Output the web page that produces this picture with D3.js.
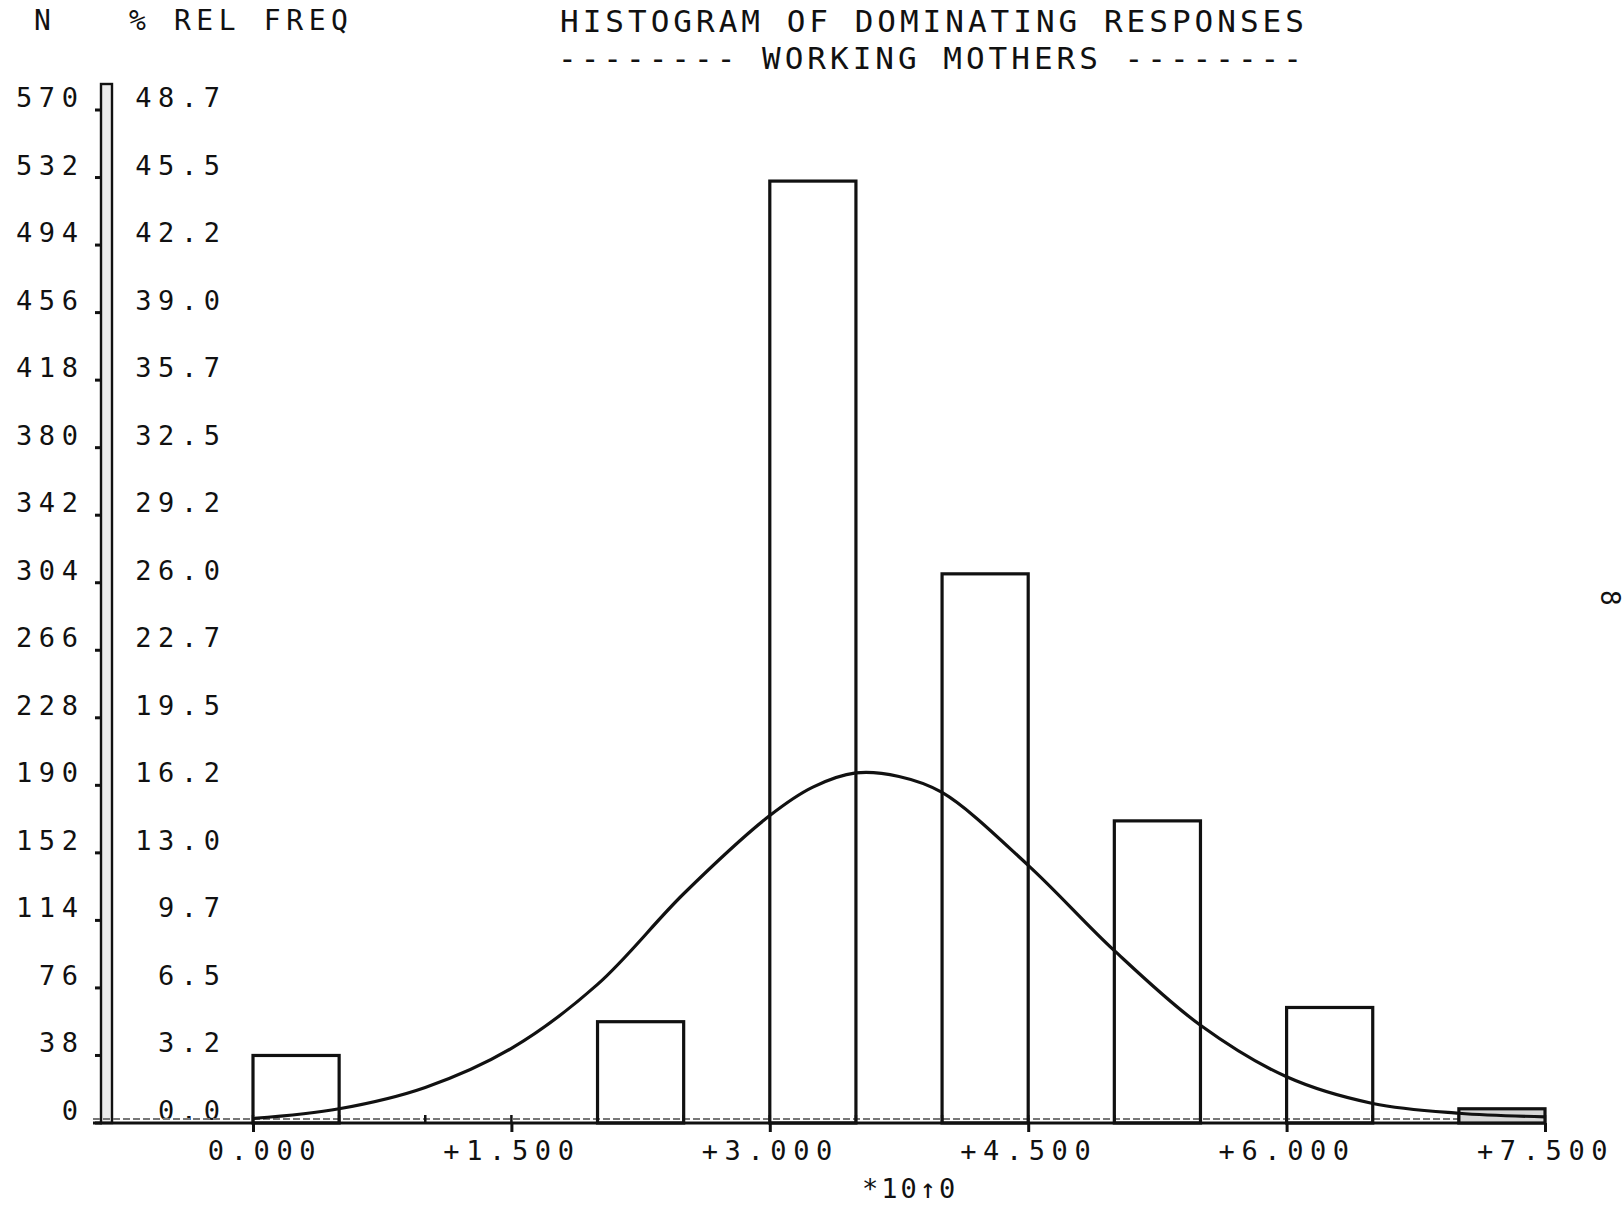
<!DOCTYPE html>
<html>
<head>
<meta charset="utf-8">
<script src="https://cdn.jsdelivr.net/npm/d3@7"></script>
<style>
  body { margin: 0; background: #fff; }
  svg text { font-family: "DejaVu Sans Mono", monospace; fill: #111; }
</style>
</head>
<body>
<div id="chart"></div>
<script>
// 1: DATA
const binStarts = [0, 2, 3, 4, 5, 6, 7];
const counts = [38, 57, 530, 309, 170, 65, 8];
const binWidth = 0.5;

const nTicks = [0, 38, 76, 114, 152, 190, 228, 266, 304, 342, 380, 418, 456, 494, 532, 570];
const pctLabels = ["0.0", "3.2", "6.5", "9.7", "13.0", "16.2", "19.5", "22.7", "26.0",
                   "29.2", "32.5", "35.7", "39.0", "42.2", "45.5", "48.7"];
const xTicks = [0, 1.5, 3, 4.5, 6, 7.5];
const xLabels = ["0.000", "+1.500", "+3.000", "+4.500", "+6.000", "+7.500"];

// fitted normal curve, in N units
const curveX = [0, 0.5, 1, 1.5, 2, 2.5, 3, 3.25, 3.5, 3.75, 4, 4.5, 5, 5.5, 6, 6.5, 7, 7.5];
const curveN = [2.5, 8, 20, 42, 78, 129, 173, 189, 197, 195, 186, 145, 97, 55, 26, 11, 5.5, 3.5];

// 2: SVG + SCALES
const W = 1624, H = 1209;
const svg = d3.select("#chart").append("svg")
    .attr("width", W)
    .attr("height", H);

svg.append("rect").attr("width", W).attr("height", H).attr("fill", "#fff");

const x = d3.scaleLinear().domain([0, 7.5]).range([253, 1545]);
const y = d3.scaleLinear().domain([0, 570]).range([1123, 110]);

// 3: HEADINGS
svg.append("text").attr("x", 34).attr("y", 30)
    .attr("font-size", 28).text("N");
svg.append("text").attr("x", 129).attr("y", 30)
    .attr("font-size", 28).attr("letter-spacing", 5.6).text("% REL FREQ");
svg.append("text").attr("x", 560).attr("y", 32)
    .attr("font-size", 31).attr("letter-spacing", 4)
    .text("HISTOGRAM OF DOMINATING RESPONSES");
svg.append("text").attr("x", 558).attr("y", 69)
    .attr("font-size", 31).attr("letter-spacing", 4)
    .text("-------- WORKING MOTHERS --------");

// 4: Y AXIS (double rule with tick dots)
const axisTop = 84;
svg.append("rect")
    .attr("x", 101).attr("y", axisTop)
    .attr("width", 11).attr("height", y(0) - axisTop)
    .attr("fill", "#ececec")
    .attr("stroke", "#111")
    .attr("stroke-width", 2.4);

svg.selectAll(".ytick").data(nTicks).join("line")
    .attr("class", "ytick")
    .attr("x1", 95).attr("x2", 102)
    .attr("y1", d => y(d)).attr("y2", d => y(d))
    .attr("stroke", "#111").attr("stroke-width", 3);

const labelSize = 27, labelSpace = 6.6;
svg.selectAll(".nlab").data(nTicks).join("text")
    .attr("class", "nlab")
    .attr("x", 78 + labelSpace)
    .attr("y", d => y(d) - 3)
    .attr("text-anchor", "end")
    .attr("font-size", labelSize)
    .attr("letter-spacing", labelSpace)
    .text(d => d);

svg.selectAll(".plab").data(nTicks).join("text")
    .attr("class", "plab")
    .attr("x", 220 + labelSpace)
    .attr("y", d => y(d) - 3)
    .attr("text-anchor", "end")
    .attr("font-size", labelSize)
    .attr("letter-spacing", labelSpace)
    .text((d, i) => pctLabels[i]);

// 5: X AXIS
svg.append("line")
    .attr("x1", 93).attr("x2", x(7.5))
    .attr("y1", y(0)).attr("y2", y(0))
    .attr("stroke", "#111").attr("stroke-width", 3);
svg.append("line")
    .attr("x1", 93).attr("x2", x(7.5))
    .attr("y1", y(0) - 4).attr("y2", y(0) - 4)
    .attr("stroke", "#777").attr("stroke-width", 2)
    .attr("stroke-dasharray", "7 3");

svg.selectAll(".xminor").data(d3.range(0, 7.51, 0.5)).join("line")
    .attr("class", "xminor")
    .attr("x1", d => x(d)).attr("x2", d => x(d))
    .attr("y1", y(0)).attr("y2", y(0) - 8)
    .attr("stroke", "#111").attr("stroke-width", 2.5);

const xAxis = svg.append("g")
    .attr("transform", `translate(0,${y(0)})`)
    .call(d3.axisBottom(x)
        .tickValues(xTicks)
        .tickFormat((d, i) => xLabels[i])
        .tickSize(9)
        .tickPadding(5));
xAxis.select(".domain").remove();
xAxis.selectAll(".tick line").attr("stroke", "#111").attr("stroke-width", 3);
xAxis.selectAll(".tick text")
    .attr("text-anchor", "end")
    .attr("x", 62 + labelSpace)
    .attr("dy", "0.85em")
    .attr("font-size", labelSize)
    .attr("letter-spacing", labelSpace)
    .attr("fill", "#111");

svg.append("text")
    .attr("x", 862).attr("y", 1198)
    .attr("font-size", labelSize)
    .attr("letter-spacing", 3)
    .text("*10\u21910");

// 6: BARS
svg.selectAll(".bar").data(counts).join("rect")
    .attr("class", "bar")
    .attr("x", (d, i) => x(binStarts[i]))
    .attr("y", d => y(d))
    .attr("width", (d, i) => x(binStarts[i] + binWidth) - x(binStarts[i]))
    .attr("height", d => y(0) - y(d))
    .attr("fill", (d, i) => i === counts.length - 1 ? "#d6d6d6" : "none")
    .attr("stroke", "#111")
    .attr("stroke-width", 3.2);

// 7: NORMAL CURVE
const curvePts = curveX.map((v, i) => [v, curveN[i]]);
const line = d3.line()
    .x(d => x(d[0]))
    .y(d => y(d[1]))
    .curve(d3.curveCatmullRom.alpha(0.5));

svg.append("path")
    .datum(curvePts)
    .attr("fill", "none")
    .attr("stroke", "#111")
    .attr("stroke-width", 3.2)
    .attr("d", line);

// margin note at the page edge
svg.append("text")
    .attr("transform", "translate(1601,590) rotate(90)")
    .attr("font-size", 26)
    .text("8");
</script>
</body>
</html>
